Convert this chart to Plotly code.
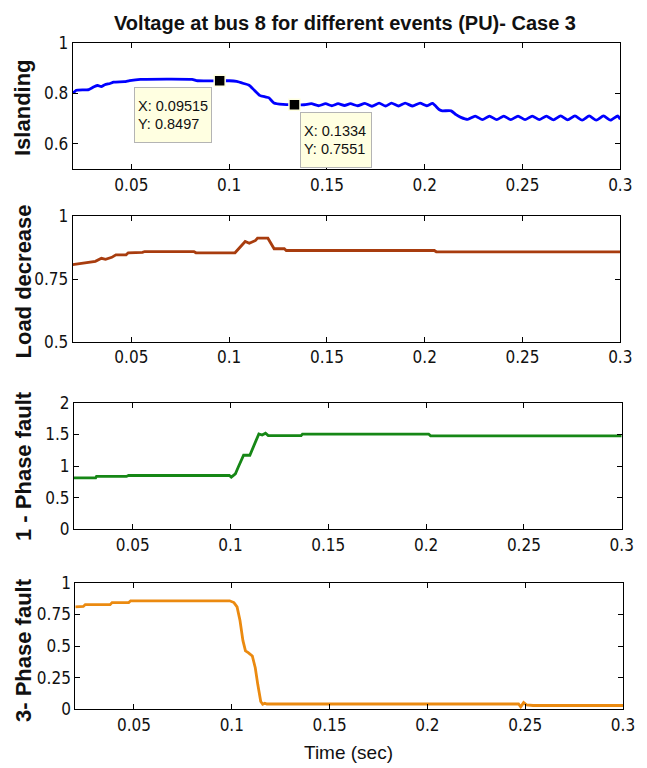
import plotly.graph_objects as go

# ---------------- data ----------------
isl_t = [0.02, 0.0209, 0.0218, 0.0282, 0.0309, 0.0328, 0.0346, 0.0364, 0.0391, 0.0409,
         0.0464, 0.0491, 0.0546, 0.081, 0.0838, 0.09515, 0.1001, 0.1038, 0.1074, 0.1102,
         0.1129, 0.1156, 0.1184, 0.1202, 0.1229, 0.1275, 0.1334, 0.1384, 0.142, 0.1457,
         0.1493, 0.1525, 0.1557, 0.159, 0.162, 0.1657, 0.1694, 0.173, 0.1767, 0.180,
         0.183, 0.1866, 0.190, 0.1938, 0.1976, 0.201, 0.204, 0.2075, 0.209, 0.2135,
         0.216, 0.2185, 0.222, 0.2258, 0.2295, 0.2331, 0.2368, 0.2404, 0.244, 0.2477,
         0.2513, 0.255, 0.2586, 0.2622, 0.2658, 0.2695, 0.2731, 0.2768, 0.2805, 0.2841,
         0.2877, 0.2914, 0.295, 0.2987, 0.3]
isl_v = [0.803, 0.806, 0.812, 0.815, 0.826, 0.831, 0.827, 0.834, 0.839, 0.844,
         0.846, 0.850, 0.855, 0.855, 0.8497, 0.8497, 0.8497, 0.847, 0.839, 0.832,
         0.812, 0.792, 0.786, 0.783, 0.762, 0.7563, 0.7551, 0.755, 0.759, 0.751,
         0.759, 0.751, 0.759, 0.752, 0.759, 0.751, 0.760, 0.749, 0.761, 0.750,
         0.761, 0.750, 0.761, 0.750, 0.761, 0.751, 0.760, 0.735, 0.731, 0.731,
         0.716, 0.705, 0.697, 0.710, 0.696, 0.710, 0.696, 0.710, 0.696, 0.710,
         0.696, 0.710, 0.696, 0.710, 0.695, 0.711, 0.695, 0.711, 0.694, 0.711,
         0.694, 0.711, 0.694, 0.711, 0.697]

load_t = [0.02, 0.0253, 0.0316, 0.0347, 0.0368, 0.040, 0.0421, 0.0473, 0.0484, 0.0557,
          0.0568, 0.082, 0.083, 0.103, 0.1061, 0.1082, 0.1103, 0.1135, 0.1145, 0.1198,
          0.123, 0.1282, 0.1292, 0.2049, 0.2059, 0.3]
load_v = [0.807, 0.812, 0.820, 0.832, 0.828, 0.836, 0.846, 0.846, 0.854, 0.856,
          0.859, 0.859, 0.854, 0.854, 0.883, 0.899, 0.892, 0.903, 0.912, 0.912,
          0.870, 0.870, 0.863, 0.863, 0.858, 0.858]

ph1_t = [0.02, 0.0311, 0.0315, 0.0468, 0.0479, 0.0994, 0.1004, 0.1025, 0.104, 0.1057,
         0.1067, 0.1099, 0.1109, 0.1124, 0.1137, 0.1145, 0.1162, 0.1179, 0.1193, 0.1361,
         0.1368, 0.2013, 0.2023, 0.3]
ph1_v = [0.813, 0.813, 0.835, 0.835, 0.850, 0.850, 0.824, 0.877, 0.984, 1.09,
         1.17, 1.17, 1.25, 1.357, 1.464, 1.507, 1.49, 1.517, 1.48, 1.48,
         1.505, 1.505, 1.476, 1.476]

ph3_t = [0.02, 0.0241, 0.0251, 0.0378, 0.0388, 0.0473, 0.0483, 0.0989, 0.1011, 0.1027,
         0.1042, 0.1057, 0.107, 0.1084, 0.1105, 0.112, 0.1133, 0.1148, 0.1158, 0.1169,
         0.1179, 0.2466, 0.2477, 0.2492, 0.2508, 0.254, 0.3]
ph3_v = [0.809, 0.812, 0.827, 0.827, 0.843, 0.843, 0.857, 0.857, 0.843, 0.809,
         0.702, 0.542, 0.461, 0.448, 0.421, 0.328, 0.195, 0.062, 0.040, 0.048,
         0.042, 0.042, 0.020, 0.053, 0.034, 0.030, 0.030]

tips_x = [0.09515, 0.1334]
tips_y = [0.8497, 0.7551]
tips_text = ["X: 0.09515<br>Y: 0.8497", "X: 0.1334<br>Y: 0.7551"]

x_ticks = [0.05, 0.1, 0.15, 0.2, 0.25, 0.3]
x_ticktext = ["0.05", "0.1", "0.15", "0.2", "0.25", "0.3"]
y1_ticks, y1_text = [0.6, 0.8, 1], ["0.6", "0.8", "1"]
y2_ticks, y2_text = [0.5, 0.75, 1], ["0.5", "0.75", "1"]
y3_ticks, y3_text = [0, 0.5, 1, 1.5, 2], ["0", "0.5", "1", "1.5", "2"]
y4_ticks, y4_text = [0, 0.25, 0.5, 0.75, 1], ["0", "0.25", "0.5", "0.75", "1"]

ylabels = ["Islanding", "Load decrease", "1 - Phase fault", "3- Phase fault"]
title_text = "Voltage at bus 8 for different events (PU)- Case 3"
xlabel_text = "Time (sec)"

# ---------------- figure ----------------
# the page body adds an 8px margin, so the figure is drawn 8px in from the corner
OFF = 8
W, H = 647 - OFF, 768 - OFF
TICKF = "DejaVu Sans Condensed, Liberation Sans, Arial, sans-serif"
ARIAL = "Liberation Sans, Arial, sans-serif"

def px_x(p):
    return (p - OFF) / W

def px_y(p):
    return 1 - (p - OFF) / H

# pixel boxes in the screenshot: left, right, top, bottom
boxes = [(72.7, 620.3, 42.7, 169.3),
         (72.7, 620.3, 216.0, 342.0),
         (74.0, 621.7, 402.7, 529.3),
         (75.3, 623.0, 582.7, 709.3)]
yranges = [[0.5, 1], [0.5, 1], [0, 2], [0, 1]]
yticks = [(y1_ticks, y1_text), (y2_ticks, y2_text), (y3_ticks, y3_text), (y4_ticks, y4_text)]
colors = ["#0000ff", "#a83c0e", "#168716", "#eb8a10"]
series = [(isl_t, isl_v), (load_t, load_v), (ph1_t, ph1_v), (ph3_t, ph3_v)]
shapes = ["spline", "linear", "linear", "linear"]

fig = go.Figure()
layout = dict(width=W, height=H, margin=dict(l=0, r=0, t=0, b=0),
              paper_bgcolor="white", plot_bgcolor="white", showlegend=False,
              template="none")

for i in range(4):
    n = "" if i == 0 else str(i + 1)
    l, r, t, b = boxes[i]
    fig.add_trace(go.Scatter(x=series[i][0], y=series[i][1], mode="lines",
                             line=dict(color=colors[i], width=2.8, shape=shapes[i],
                                       smoothing=0.5),
                             xaxis="x" + n, yaxis="y" + n, hoverinfo="skip"))
    layout["xaxis" + n] = dict(domain=[px_x(l), px_x(r)], range=[0.02, 0.3],
                               anchor="y" + n, showgrid=False, zeroline=False,
                               showline=True, linecolor="black", linewidth=1, mirror="ticks",
                               ticks="inside", ticklen=5, tickcolor="black", tickwidth=1,
                               tickvals=x_ticks, ticktext=x_ticktext, automargin=False,
                               tickfont=dict(family=TICKF, size=17, color="#111111"))
    layout["yaxis" + n] = dict(domain=[px_y(b), px_y(t)], range=yranges[i],
                               anchor="x" + n, showgrid=False, zeroline=False,
                               showline=True, linecolor="black", linewidth=1, mirror="ticks",
                               ticks="inside", ticklen=5, tickcolor="black", tickwidth=1,
                               tickvals=yticks[i][0], ticktext=yticks[i][1], automargin=False,
                               tickfont=dict(family=TICKF, size=17, color="#111111"))

# datatip markers
fig.add_trace(go.Scatter(x=tips_x, y=tips_y, mode="markers",
                         marker=dict(symbol="square", size=11, color="black",
                                     line=dict(color="#ffffe1", width=1.5)),
                         xaxis="x", yaxis="y", hoverinfo="skip"))

annotations = []
offsets = [(-46.7, 34.7, 70), (41.5, 35.3, 64)]
for (tx, ty, txt, (ax, ay, w)) in zip(tips_x, tips_y, tips_text, offsets):
    annotations.append(dict(x=tx, y=ty, xref="x", yref="y", text=txt, showarrow=True,
                            arrowcolor="rgba(0,0,0,0)", arrowwidth=0.1, ax=ax, ay=ay,
                            align="left", width=w, height=48, bgcolor="#ffffe1",
                            bordercolor="#b4b4b4", borderwidth=1, borderpad=3,
                            font=dict(family=ARIAL, size=14.5, color="#111111")))

label_y = [108, 281.5, 466, 650]
for txt, yy in zip(ylabels, label_y):
    annotations.append(dict(x=px_x(23), y=px_y(yy), xref="paper", yref="paper",
                            text="<b>" + txt + "</b>", textangle=-90, showarrow=False,
                            xanchor="center", yanchor="middle",
                            font=dict(family=ARIAL, size=22, color="#111111")))

annotations.append(dict(x=px_x(345), y=px_y(22.5), xref="paper", yref="paper",
                        text="<b>" + title_text + "</b>", showarrow=False,
                        xanchor="center", yanchor="middle",
                        font=dict(family=ARIAL, size=20, color="#111111")))
annotations.append(dict(x=px_x(348), y=px_y(752), xref="paper", yref="paper",
                        text=xlabel_text, showarrow=False,
                        xanchor="center", yanchor="middle",
                        font=dict(family=ARIAL, size=19, color="#111111")))
layout["annotations"] = annotations

fig.update_layout(**layout)
fig.write_html("out.html")
